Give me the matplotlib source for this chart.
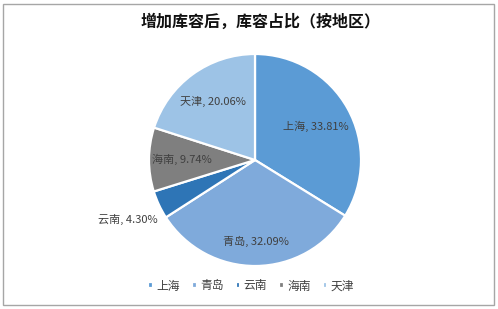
import matplotlib.pyplot as plt
import numpy as np
from matplotlib.patches import Rectangle

plt.rcParams['font.family'] = ['Noto Sans CJK SC', 'DejaVu Sans']

REGIONS = ["上海", "青岛", "云南", "海南", "天津"]
SHARES = [33.81, 32.09, 4.30, 9.74, 20.06]
COLORS = ["#5b9bd5", "#7faadb", "#2e75b6", "#7f7f7f", "#9dc3e6"]
LABEL_DIST = [0.66, 0.77, 1.32, 0.69, 0.68]

W, H = 498, 309
fig = plt.figure(figsize=(W / 100, H / 100), dpi=100)

# outer frame
fig.patches.append(Rectangle((3 / W, 4 / H), 491 / W, 301 / H, transform=fig.transFigure,
                             fill=False, edgecolor="#a6a6a6", linewidth=1.0))

cx, cy, r = 255, 149, 106
ax = fig.add_axes([(cx - r) / W, (cy - r) / H, 2 * r / W, 2 * r / H])
wedges, texts = ax.pie(SHARES, colors=COLORS, startangle=90, counterclock=False, radius=1,
                       labels=[f"{n}, {v:.2f}%" for n, v in zip(REGIONS, SHARES)],
                       labeldistance=0.7,
                       wedgeprops={"edgecolor": "white", "linewidth": 1.6})
for w, t, d in zip(wedges, texts, LABEL_DIST):
    ang = np.deg2rad((w.theta1 + w.theta2) / 2)
    t.set_position((d * np.cos(ang), d * np.sin(ang)))
    t.set_ha("center")
    t.set_va("center")
    t.set_fontsize(8)
    t.set_color("#404040")
ax.set_xlim(-1, 1)
ax.set_ylim(-1, 1)
ax.set_aspect("equal")
ax.axis("off")

fig.text(0.523, 1 - 22 / H, "增加库容后，库容占比（按地区）", ha="center", va="center",
         fontsize=11.5, fontweight="bold", color="#111111")

fig.legend(wedges, REGIONS, loc="center", bbox_to_anchor=(0.505, 1 - 286 / H), ncol=5,
           frameon=False, fontsize=8.5, handlelength=0.4, handleheight=0.4,
           handletextpad=0.3, columnspacing=1.0, labelcolor="#404040")

plt.savefig("out.png", dpi=100)
